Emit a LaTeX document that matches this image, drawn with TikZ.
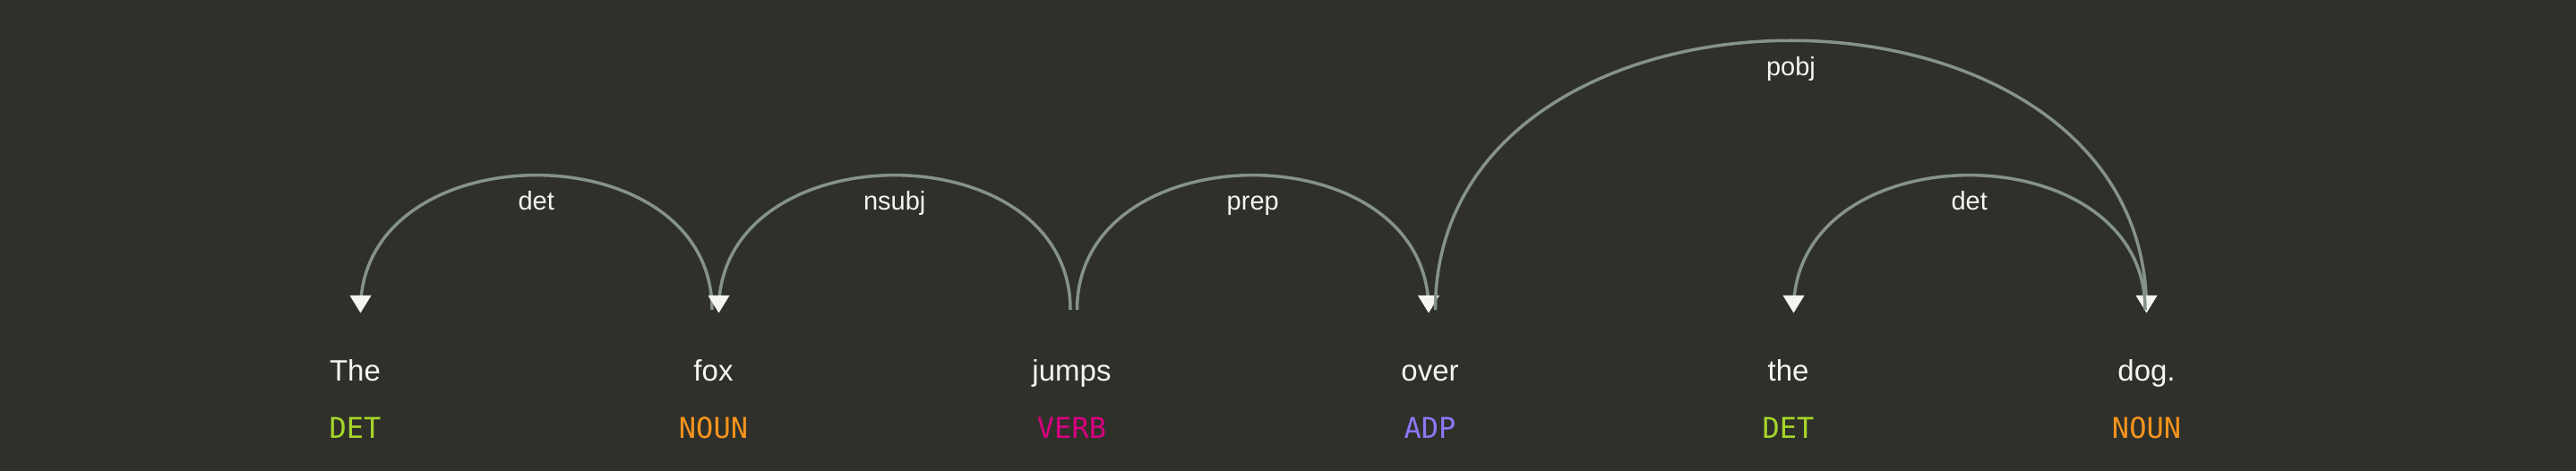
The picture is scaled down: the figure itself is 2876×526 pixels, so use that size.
\documentclass[tikz,border=0pt]{standalone}
\usepackage{fontspec}
\setmainfont{Liberation Sans}
\newfontfamily\tagfont{DejaVu Sans Mono}
\definecolor{bgcol}{RGB}{47,48,42}
\definecolor{arccol}{RGB}{134,146,140}
\definecolor{headcol}{RGB}{245,245,240}
\definecolor{wordcol}{RGB}{245,245,240}
\definecolor{detcol}{RGB}{166,214,41}
\definecolor{nouncol}{RGB}{247,148,29}
\definecolor{verbcol}{RGB}{216,0,128}
\definecolor{adpcol}{RGB}{138,120,246}
\begin{document}
\begin{tikzpicture}[x=1pt,y=-1pt,
  word/.style={anchor=base,inner sep=0pt,text=wordcol,font=\fontsize{33}{40}\selectfont},
  tagtext/.style={anchor=base,inner sep=0pt,font=\tagfont\fontsize{32}{38}\selectfont},
  arclabel/.style={anchor=base,inner sep=0pt,text=wordcol,font=\fontsize{29}{35}\selectfont},
  arcline/.style={draw=arccol,line width=3.5pt},
  head/.style={fill=headcol}]
\useasboundingbox (0,0) rectangle (2876,526);
\fill[bgcol] (0,0) rectangle (2876,526);

% words
\node[word] (w0) at (396.5,425.5) {The};
\node[word] (w1) at (796.5,425.5) {fox};
\node[word] (w2) at (1196.5,425.5) {jumps};
\node[word] (w3) at (1596.5,425.5) {over};
\node[word] (w4) at (1996.5,425.5) {the};
\node[word] (w5) at (2396.5,425.5) {dog.};
% tags
\node[tagtext,text=detcol] (t0) at (396.5,489.5) {DET};
\node[tagtext,text=nouncol] (t1) at (796.5,489.5) {NOUN};
\node[tagtext,text=verbcol] (t2) at (1196.5,489.5) {VERB};
\node[tagtext,text=adpcol] (t3) at (1596.5,489.5) {ADP};
\node[tagtext,text=detcol] (t4) at (1996.5,489.5) {DET};
\node[tagtext,text=nouncol] (t5) at (2396.5,489.5) {NOUN};

% arc end points
\coordinate (d1s) at (402.5,346);
\coordinate (d1e) at (795,346);
\coordinate (nss) at (802.5,346);
\coordinate (nse) at (1195,346);
\coordinate (prs) at (1202.5,346);
\coordinate (pre) at (1595,346);
\coordinate (pos) at (1602.5,346);
\coordinate (poe) at (2396.5,346);
\coordinate (d2s) at (2002.5,346);
\coordinate (d2e) at (2395,346);

% det (The <- fox)
\draw[arcline] (d1s) .. controls +(0,-200.5) and +(0,-200.5) .. (d1e);
\fill[head] (d1s) ++(0,3.5) -- ++(-12,-19.5) -- ++(24,0) -- cycle;
\node[arclabel] (l1) at (598.75,235) {det};
% nsubj (fox <- jumps)
\draw[arcline] (nss) .. controls +(0,-200.5) and +(0,-200.5) .. (nse);
\fill[head] (nss) ++(0,3.5) -- ++(-12,-19.5) -- ++(24,0) -- cycle;
\node[arclabel] (l2) at (998.75,235) {nsubj};
% prep (jumps -> over)
\draw[arcline] (prs) .. controls +(0,-200.5) and +(0,-200.5) .. (pre);
\fill[head] (pre) ++(0,3.5) -- ++(-12,-19.5) -- ++(24,0) -- cycle;
\node[arclabel] (l3) at (1398.75,235) {prep};
% pobj (over -> dog)
\draw[arcline] (pos) .. controls +(0,-401) and +(0,-401) .. (poe);
\fill[head] (poe) ++(0,3.5) -- ++(-12,-19.5) -- ++(24,0) -- cycle;
\node[arclabel] (l4) at (1999.5,84.75) {pobj};
% det (the <- dog)
\draw[arcline] (d2s) .. controls +(0,-200.5) and +(0,-200.5) .. (d2e);
\fill[head] (d2s) ++(0,3.5) -- ++(-12,-19.5) -- ++(24,0) -- cycle;
\node[arclabel] (l5) at (2198.75,235) {det};
\end{tikzpicture}
\end{document}
